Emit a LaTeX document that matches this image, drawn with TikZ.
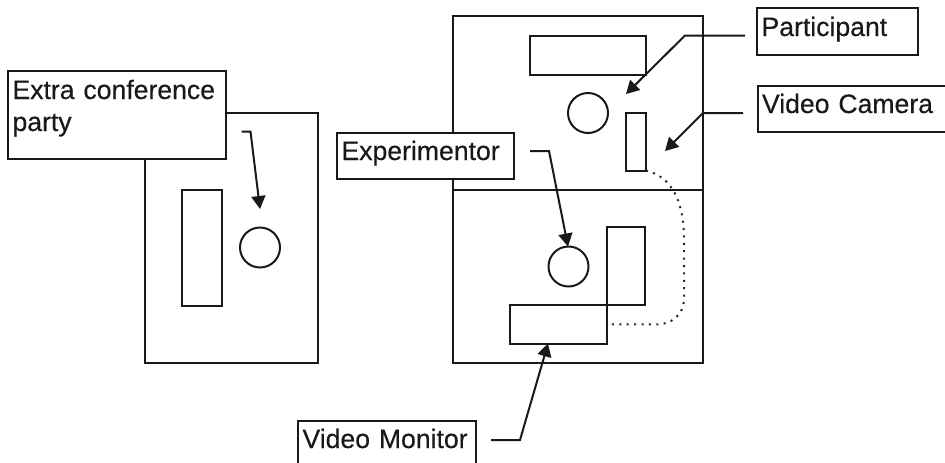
\documentclass[tikz,border=0pt]{standalone}
\usepackage{fontspec}
\setmainfont[FakeBold=0.6]{Liberation Sans}
\newfontfamily\labelfont[FakeBold=0.35]{Liberation Sans}
\usetikzlibrary{arrows.meta}
\tikzset{
  ink/.style={line width=2pt,draw=black!90},
  shapebox/.style={ink,rectangle,anchor=north west,inner sep=0pt,outer sep=0pt},
  person/.style={ink,circle,minimum size=40pt,inner sep=0pt,outer sep=0pt},
  lab/.style={ink,fill=white,rectangle,anchor=north west,inner xsep=4.5pt,inner ysep=0pt,outer sep=0pt,align=left,
    font=\labelfont\fontsize{26.6}{32}\selectfont,text=black!90},
  pointer/.style={ink,-{Triangle[length=13pt,width=14pt]},line join=miter},
  cable/.style={line width=2pt,draw=black!85,dash pattern=on 2pt off 5.4pt}
}
\begin{document}
\begin{tikzpicture}[x=1pt,y=-1pt]
\useasboundingbox (0,0) rectangle (945,463);
\clip (0,0) rectangle (945,463);
\fill[white] (0,0) rectangle (945,463);
% rooms
\node[shapebox,minimum width=173pt,minimum height=250.5pt] (roomL) at (144.5,112.5) {};
\node[shapebox,minimum width=250pt,minimum height=173.5pt] (roomT) at (453,16) {};
\node[shapebox,minimum width=250pt,minimum height=173.2pt] (roomB) at (453,189.5) {};
% furniture
\node[shapebox,minimum width=39.5pt,minimum height=116pt] (tableL) at (182,190) {};
\node[person] (partyC) at (260,247.5) {};
\node[shapebox,minimum width=116pt,minimum height=39pt] (tableT) at (530,35.5) {};
\node[person] (partC) at (588,113) {};
\node[shapebox,minimum width=20pt,minimum height=57.5pt] (camera) at (626,113) {};
\node[person] (expC) at (568.5,266.5) {};
\node[shapebox,minimum width=38.3pt,minimum height=78.3pt] (tableB) at (606.7,226.7) {};
\node[shapebox,minimum width=96.7pt,minimum height=38.5pt] (monitor) at (510,305) {};
% cable
\draw[cable] (camera.south east) .. controls (664,175) and (684,190) .. (684,240)
  -- (684,298) .. controls (684,315) and (672,324.5) .. (655,324.5) -- (monitor.east);
% labels
\node[lab,text width=209pt,text height=28pt,text depth=60pt] (extra) at (8,71) {Extra conference\\party};
\node[lab,text width=152pt,text height=28pt,text depth=18.5pt] (participant) at (757,8) {Participant};
\node[lab,text width=195pt,text height=27pt,text depth=19pt] (vcam) at (757.5,86) {Video Camera};
\node[lab,text width=168pt,text height=27.5pt,text depth=18.5pt] (experimentor) at (337,132.5) {Experimentor};
\node[lab,text width=169pt,text height=27pt,text depth=30pt] (vmon) at (298,421) {Video Monitor};
% free ends of the leader lines
\coordinate (e0) at (241.5,131.5);
\coordinate (e1) at (250.5,131.5);
\coordinate (e2) at (260,209);
\coordinate (p0) at (745,35.5);
\coordinate (p1) at (685,35.5);
\coordinate (p2) at (626,94);
\coordinate (c0) at (743,113);
\coordinate (c1) at (703,113);
\coordinate (c2) at (665,151);
\coordinate (x0) at (530,151);
\coordinate (x1) at (549,151);
\coordinate (x2) at (568,246.5);
\coordinate (m0) at (491,440);
\coordinate (m1) at (520,440);
\coordinate (m2) at (548,343.5);
\draw[pointer] (e0) -- (e1) -- (e2);
\draw[pointer] (p0) -- (p1) -- (p2);
\draw[pointer] (c0) -- (c1) -- (c2);
\draw[pointer] (x0) -- (x1) -- (x2);
\draw[pointer] (m0) -- (m1) -- (m2);
\end{tikzpicture}
\end{document}
